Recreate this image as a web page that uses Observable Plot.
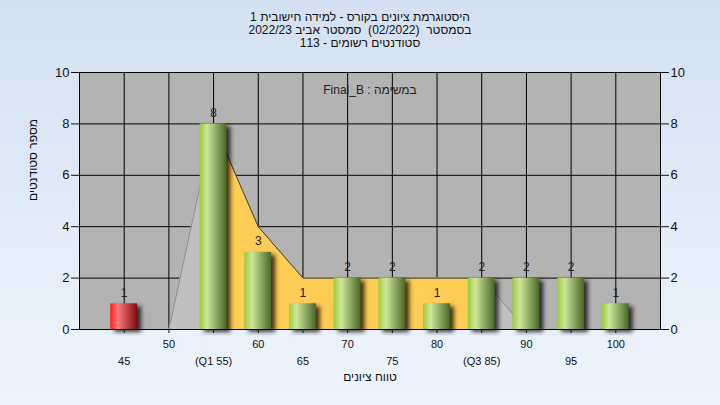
<!DOCTYPE html>
<html><head><meta charset="utf-8">
<script src="https://cdn.jsdelivr.net/npm/d3@7"></script>
<script src="https://cdn.jsdelivr.net/npm/@observablehq/plot@0.6"></script>
<style>
html,body{margin:0;padding:0;}
body{width:720px;height:405px;overflow:hidden;background:linear-gradient(#d4e0f1,#eef5fd);font-family:"Liberation Sans",Arial,"DejaVu Sans",sans-serif;}
#title{height:52px;box-sizing:border-box;padding-top:11px;text-align:center;font-size:12px;line-height:13px;color:#111;white-space:pre;}
</style></head><body>
<svg width="0" height="0" style="position:absolute"><defs>
<linearGradient id="gGreen" x1="0" x2="1" y1="0" y2="0">
 <stop offset="0" stop-color="#9ccb3a"/>
 <stop offset="0.28" stop-color="#cde79a"/>
 <stop offset="1" stop-color="#4a6626"/>
</linearGradient>
<linearGradient id="gRed" x1="0" x2="1" y1="0" y2="0">
 <stop offset="0" stop-color="#ff1c1c"/>
 <stop offset="0.28" stop-color="#ff7878"/>
 <stop offset="1" stop-color="#7c0e0e"/>
</linearGradient>
</defs></svg>
<div id="title" dir="rtl"></div>
<div id="chart"></div>
<script>
const titleLines = [
  "היסטוגרמת ציונים בקורס - למידה חישובית 1",
  "בסמסטר  (02/2022)  סמסטר אביב 2022/23",
  "סטודנטים רשומים - 113"
];
const scores = [45, 50, 55, 60, 65, 70, 75, 80, 85, 90, 95, 100];
const counts = [1, 0, 8, 3, 1, 2, 2, 1, 2, 2, 2, 1];
const envelope = [0, 0, 8, 4, 2, 2, 2, 2, 2, 0, 0, 0];
const q1 = 55, q3 = 85;
const passGrade = 55;
const taskLabel = "במשימה : Final_B";
const yLabel = "מספר סטודנטים";
const xLabel = "טווח ציונים";
const yTicks = [0, 2, 4, 6, 8, 10];
const xTicksTop = [50, 60, 70, 80, 90, 100];
const xTicksBottom = [45, 55, 65, 75, 85, 95];
const xTickBottomLabels = ["45", "(Q1 55)", "65", "75", "(Q3 85)", "95"];

document.getElementById("title").textContent = titleLines.join("\n");

const bars = scores.map((s, i) => ({score: s, count: counts[i]}));
const env = scores.map((s, i) => ({score: s, v: envelope[i]}));
const envIQR = env.filter(d => d.score >= q1 && d.score <= q3);
const halfW = 1.5;

const chart = Plot.plot({
  width: 720, height: 353,
  marginTop: 20, marginBottom: 76, marginLeft: 79, marginRight: 60,
  style: {background: "transparent", fontFamily: "'Liberation Sans', Arial, sans-serif", fontSize: "11px", color: "#111", overflow: "visible"},
  x: {type: "linear", domain: [40, 105]},
  y: {domain: [0, 10]},
  color: {type: "identity"},
  marks: [
    Plot.frame({fill: "#b3b3b3"}),
    Plot.gridX({ticks: scores, stroke: "#000", strokeOpacity: 1}),
    Plot.gridY({ticks: yTicks, stroke: "#000", strokeOpacity: 1}),
    Plot.areaY(env, {x: "score", y: "v", fill: "#c0c0c0"}),
    Plot.areaY(envIQR, {x: "score", y: "v", fill: "#ffcc55"}),
    Plot.lineY(env, {x: "score", y: "v", stroke: "#8c8c8c", strokeWidth: 1}),
    Plot.lineY(envIQR, {x: "score", y: "v", stroke: "#5a4a22", strokeWidth: 1}),
    Plot.rectY(bars.filter(d => d.count > 0), {x1: d => d.score - halfW, x2: d => d.score + halfW, y: "count", fill: "#000", fillOpacity: 0.75, dx: 4, dy: 3}),
    Plot.rectY(bars.filter(d => d.count > 0), {x1: d => d.score - halfW, x2: d => d.score + halfW, y: "count",
      fill: d => d.score < passGrade ? "url(#gRed)" : "url(#gGreen)"}),
    Plot.text(bars.filter(d => d.count > 0), {x: "score", y: "count", text: d => String(d.count), dy: -11, fontSize: 12, fill: "#222"}),
    Plot.frame({stroke: "#000"}),
    Plot.axisY({anchor: "left", ticks: yTicks, tickSize: 8, tickPadding: 2, fontSize: 13, label: null}),
    Plot.axisY({anchor: "right", ticks: yTicks, tickSize: 8, tickPadding: 2, fontSize: 13, label: null}),
    Plot.axisX({ticks: scores, tickSize: 4, tickFormat: () => "", label: null}),
    Plot.axisX({ticks: xTicksTop, tickSize: 0, tickPadding: 11, fontSize: 11, label: null}),
    Plot.axisX({ticks: xTicksBottom, tickSize: 0, tickPadding: 28, fontSize: 11, label: null,
      tickFormat: d => xTickBottomLabels[xTicksBottom.indexOf(d)]}),
    Plot.text([taskLabel], {frameAnchor: "top", text: d => "\u202B" + d + "\u202C", dy: 13, fontSize: 12, fill: "#222"}),
    Plot.text([yLabel], {frameAnchor: "left", text: d => d, dx: -46, rotate: -90, fontSize: 12, fill: "#111"}),
    Plot.text([xLabel], {frameAnchor: "bottom", text: d => d, dy: 51, fontSize: 12, fill: "#111"})
  ]
});
document.getElementById("chart").appendChild(chart);
const rectGroups = chart.querySelectorAll('g[aria-label="rect"]');
if (rectGroups.length) rectGroups[0].style.filter = "blur(2px)";
</script>
</body></html>
